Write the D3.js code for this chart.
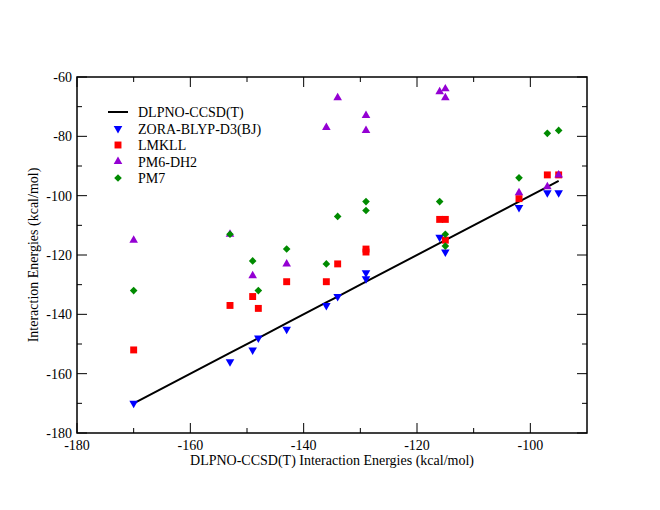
<!DOCTYPE html>
<html>
<head>
<meta charset="utf-8">
<script src="https://cdn.jsdelivr.net/npm/d3@7"></script>
<style>
  body { margin: 0; background: #fff; }
</style>
</head>
<body>
<div id="chart"></div>
<script>
// reference (DLPNO-CCSD(T)) values, drawn as y = x
var dlpno = [-170, -153, -149, -148, -143, -136, -134, -129, -116, -115, -102, -97, -95];

var zoraX = [-170, -153, -149, -148, -143, -136, -134, -129, -129, -116, -115, -102, -97, -95];
var zoraY = [-170, -156, -152, -148, -145, -137, -134, -126, -128, -114, -119, -104, -99, -99];

var lmkllX = [-170, -153, -149, -148, -143, -136, -134, -129, -129, -116, -115, -115, -102, -97, -95];
var lmkllY = [-152, -137, -134, -138, -129, -129, -123, -118, -119, -108, -108, -115, -101, -93, -93];

var pm6X = [-170, -153, -149, -143, -136, -134, -129, -129, -116, -115, -115, -102, -97, -95];
var pm6Y = [-115, -113, -127, -123, -77, -67, -73, -78, -65, -64, -67, -99, -97, -93];

var pm7X = [-170, -153, -149, -148, -143, -136, -134, -129, -129, -116, -115, -115, -102, -97, -95];
var pm7Y = [-132, -113, -122, -132, -118, -123, -107, -102, -105, -102, -113, -117, -94, -79, -78];

var xTicks = [-180, -160, -140, -120, -100];
var yTicks = [-180, -160, -140, -120, -100, -80, -60];

(() => {
    var margin = { top: 77, right: 73, bottom: 77, left: 77 },
        width = 660 - margin.left - margin.right,
        height = 510 - margin.top - margin.bottom;
    var font = "'Liberation Serif', serif";

    var svg = d3.select("#chart")
        .append("svg")
        .attr("width", 660)
        .attr("height", 510)
        .attr("font-family", font)
        .append("g")
        .attr("transform", "translate(" + margin.left + "," + margin.top + ")");

    var x = d3.scaleLinear().domain([-180, -90]).range([0, width]);
    var y = d3.scaleLinear().domain([-180, -60]).range([height, 0]);

    // frame
    svg.append("rect")
        .attr("width", width).attr("height", height)
        .style("fill", "none").style("stroke", "black").attr("stroke-width", 1.5);

    // ticks pointing inward on all sides
    var xMinor = d3.range(-170, -90, 20);
    var yMinor = d3.range(-170, -60, 20);
    var tickG = svg.append("g").attr("stroke", "black").attr("stroke-width", 1);

    xTicks.concat(xMinor).forEach(function (v) {
        var len = xTicks.indexOf(v) >= 0 ? 10 : 5;
        tickG.append("line").attr("x1", x(v)).attr("x2", x(v)).attr("y1", height).attr("y2", height - len);
        tickG.append("line").attr("x1", x(v)).attr("x2", x(v)).attr("y1", 0).attr("y2", len);
    });
    yTicks.concat(yMinor).forEach(function (v) {
        var len = yTicks.indexOf(v) >= 0 ? 10 : 5;
        tickG.append("line").attr("y1", y(v)).attr("y2", y(v)).attr("x1", 0).attr("x2", len);
        tickG.append("line").attr("y1", y(v)).attr("y2", y(v)).attr("x1", width).attr("x2", width - len);
    });

    svg.selectAll("xlab")
        .data(xTicks)
        .enter()
        .append("text")
        .attr("x", function (d) { return x(d); })
        .attr("y", height + 17)
        .attr("text-anchor", "middle")
        .attr("font-family", font)
        .style("font-size", "14px")
        .text(function (d) { return d; });

    svg.selectAll("ylab")
        .data(yTicks)
        .enter()
        .append("text")
        .attr("x", -5)
        .attr("y", function (d) { return y(d) + 5; })
        .attr("text-anchor", "end")
        .attr("font-family", font)
        .style("font-size", "14px")
        .text(function (d) { return d; });

    svg.append("text")
        .attr("x", width / 2)
        .attr("y", height + 32)
        .attr("text-anchor", "middle")
        .attr("font-family", font)
        .style("font-size", "14px")
        .text("DLPNO-CCSD(T) Interaction Energies (kcal/mol)");

    svg.append("text")
        .attr("transform", "translate(-39," + (height / 2) + ") rotate(-90)")
        .attr("text-anchor", "middle")
        .attr("font-family", font)
        .style("font-size", "14px")
        .text("Interaction Energies (kcal/mol)");

    // y = x reference line
    svg.append("path")
        .datum(dlpno)
        .attr("d", d3.line().x(function (d) { return x(d); }).y(function (d) { return y(d); }))
        .style("fill", "none").style("stroke", "black").attr("stroke-width", 2);

    var series = [
        { name: "ZORA-BLYP-D3(BJ)", xs: zoraX, ys: zoraY, color: "#0000ff", sym: d3.symbolTriangle, rot: 180, size: 32 },
        { name: "LMKLL", xs: lmkllX, ys: lmkllY, color: "#ff0000", sym: d3.symbolSquare, rot: 0, size: 48 },
        { name: "PM6-DH2", xs: pm6X, ys: pm6Y, color: "#9400d3", sym: d3.symbolTriangle, rot: 0, size: 32 },
        { name: "PM7", xs: pm7X, ys: pm7Y, color: "#008b00", sym: d3.symbolSquare, rot: 45, size: 29 }
    ];

    series.forEach(function (s) {
        var pts = s.xs.map(function (v, i) { return [v, s.ys[i]]; });
        svg.selectAll("pt")
            .data(pts)
            .enter()
            .append("path")
            .attr("d", d3.symbol().type(s.sym).size(s.size))
            .attr("transform", function (d) {
                return "translate(" + x(d[0]) + "," + y(d[1]) + ") rotate(" + s.rot + ")";
            })
            .style("fill", s.color);
    });

    // legend
    var leg = svg.append("g").attr("transform", "translate(31,35)");
    leg.append("line").attr("x1", 0).attr("x2", 20).attr("y1", 0).attr("y2", 0)
        .style("stroke", "black").attr("stroke-width", 2);
    leg.append("text").attr("x", 30).attr("y", 5).attr("font-family", font)
        .style("font-size", "14px").text("DLPNO-CCSD(T)");

    series.forEach(function (s, i) {
        var ly = (i + 1) * 16.5;
        leg.append("path")
            .attr("d", d3.symbol().type(s.sym).size(s.size))
            .attr("transform", "translate(10," + ly + ") rotate(" + s.rot + ")")
            .style("fill", s.color);
        leg.append("text").attr("x", 30).attr("y", ly + 5).attr("font-family", font)
            .style("font-size", "14px").text(s.name);
    });
})();
</script>
</body>
</html>
